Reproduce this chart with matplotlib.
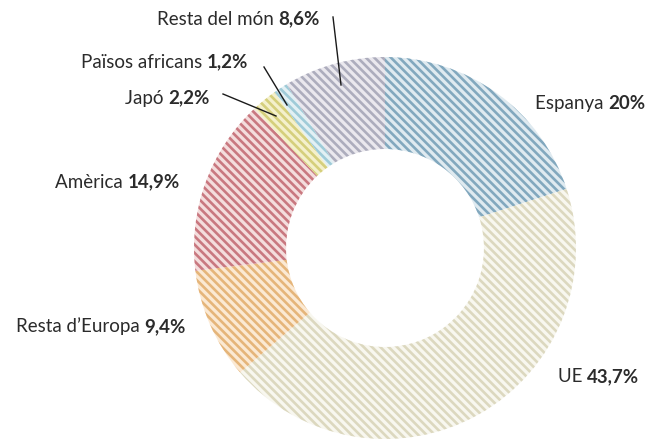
"""Donut chart: destinació de les vendes per mercat."""

import matplotlib

matplotlib.use("Agg")
import matplotlib.pyplot as plt
from matplotlib.offsetbox import AnnotationBbox, HPacker, TextArea

# data, clockwise from the top
regions = ["Espanya", "UE", "Resta d\u2019Europa", "Am\u00e8rica", "Jap\u00f3",
           "Pa\u00efsos africans", "Resta del m\u00f3n"]
shares = [20.0, 43.7, 9.4, 14.9, 2.2, 1.2, 8.6]
share_labels = ["20%", "43,7%", "9,4%", "14,9%", "2,2%", "1,2%", "8,6%"]

stripe_colors = ["#82a8be", "#dcd8bf", "#e5b57a", "#c97880", "#d5cf7c", "#9fcbd8", "#adadbd"]
fill_colors = ["#dfeaf0", "#f8f7ef", "#fbe9d3", "#f4dddd", "#f4f0cc", "#e2f0f4", "#eae8ee"]

W, H = 652, 440
CX, CY, R = 385, 248, 191

plt.rcParams["hatch.linewidth"] = 1.9
plt.rcParams["font.family"] = ["Lato", "DejaVu Sans"]
TEXT_COLOR = "#2b2b2b"


def to_data(px, py):
    return (px - CX) / R, (CY - py) / R


fig = plt.figure(figsize=(W / 100, H / 100), dpi=100)
ax = fig.add_axes([(CX - R) / W, (H - CY - R) / H, 2 * R / W, 2 * R / H])
ax.set_xlim(-1, 1)
ax.set_ylim(-1, 1)
ax.axis("off")

wedges, _ = ax.pie(
    shares,
    startangle=90,
    counterclock=False,
    radius=1.0,
    wedgeprops=dict(width=92 / R, linewidth=0),
    frame=False,
)
for w, fc, sc in zip(wedges, fill_colors, stripe_colors):
    w.set_facecolor(fc)
    w.set_edgecolor(sc)
    w.set_hatch("\\\\\\\\")
    w.set_linewidth(0)
ax.set_xlim(-1, 1)
ax.set_ylim(-1, 1)

# label anchors (pixel positions) and alignment
anchors = [(535, 103, "left"), (558, 377, "left"), (186, 326, "right"),
           (180, 182, "right"), (210, 98, "right"), (248, 62, "right"),
           (320, 19, "right")]

for name, lab, (px, py, ha) in zip(regions, share_labels, anchors):
    reg = TextArea(name + " ", textprops=dict(fontsize=13.5, color=TEXT_COLOR))
    bold = TextArea(lab, textprops=dict(fontsize=13.5, color=TEXT_COLOR, fontweight="bold"))
    box = HPacker(children=[reg, bold], align="baseline", pad=0, sep=0)
    ab = AnnotationBbox(box, to_data(px, py), frameon=False, pad=0,
                        box_alignment=(0 if ha == "left" else 1, 0.5),
                        annotation_clip=False)
    ax.add_artist(ab)

# leader lines for the small slices
leaders = [((223, 94), (276, 116)), ((264, 67), (287, 105)), ((333, 17), (341, 85))]
for (x0, y0), (x1, y1) in leaders:
    a = to_data(x0, y0)
    b = to_data(x1, y1)
    ax.plot([a[0], b[0]], [a[1], b[1]], color="#1a1a1a", linewidth=1.0, clip_on=False)

fig.savefig("out.png", dpi=100)
